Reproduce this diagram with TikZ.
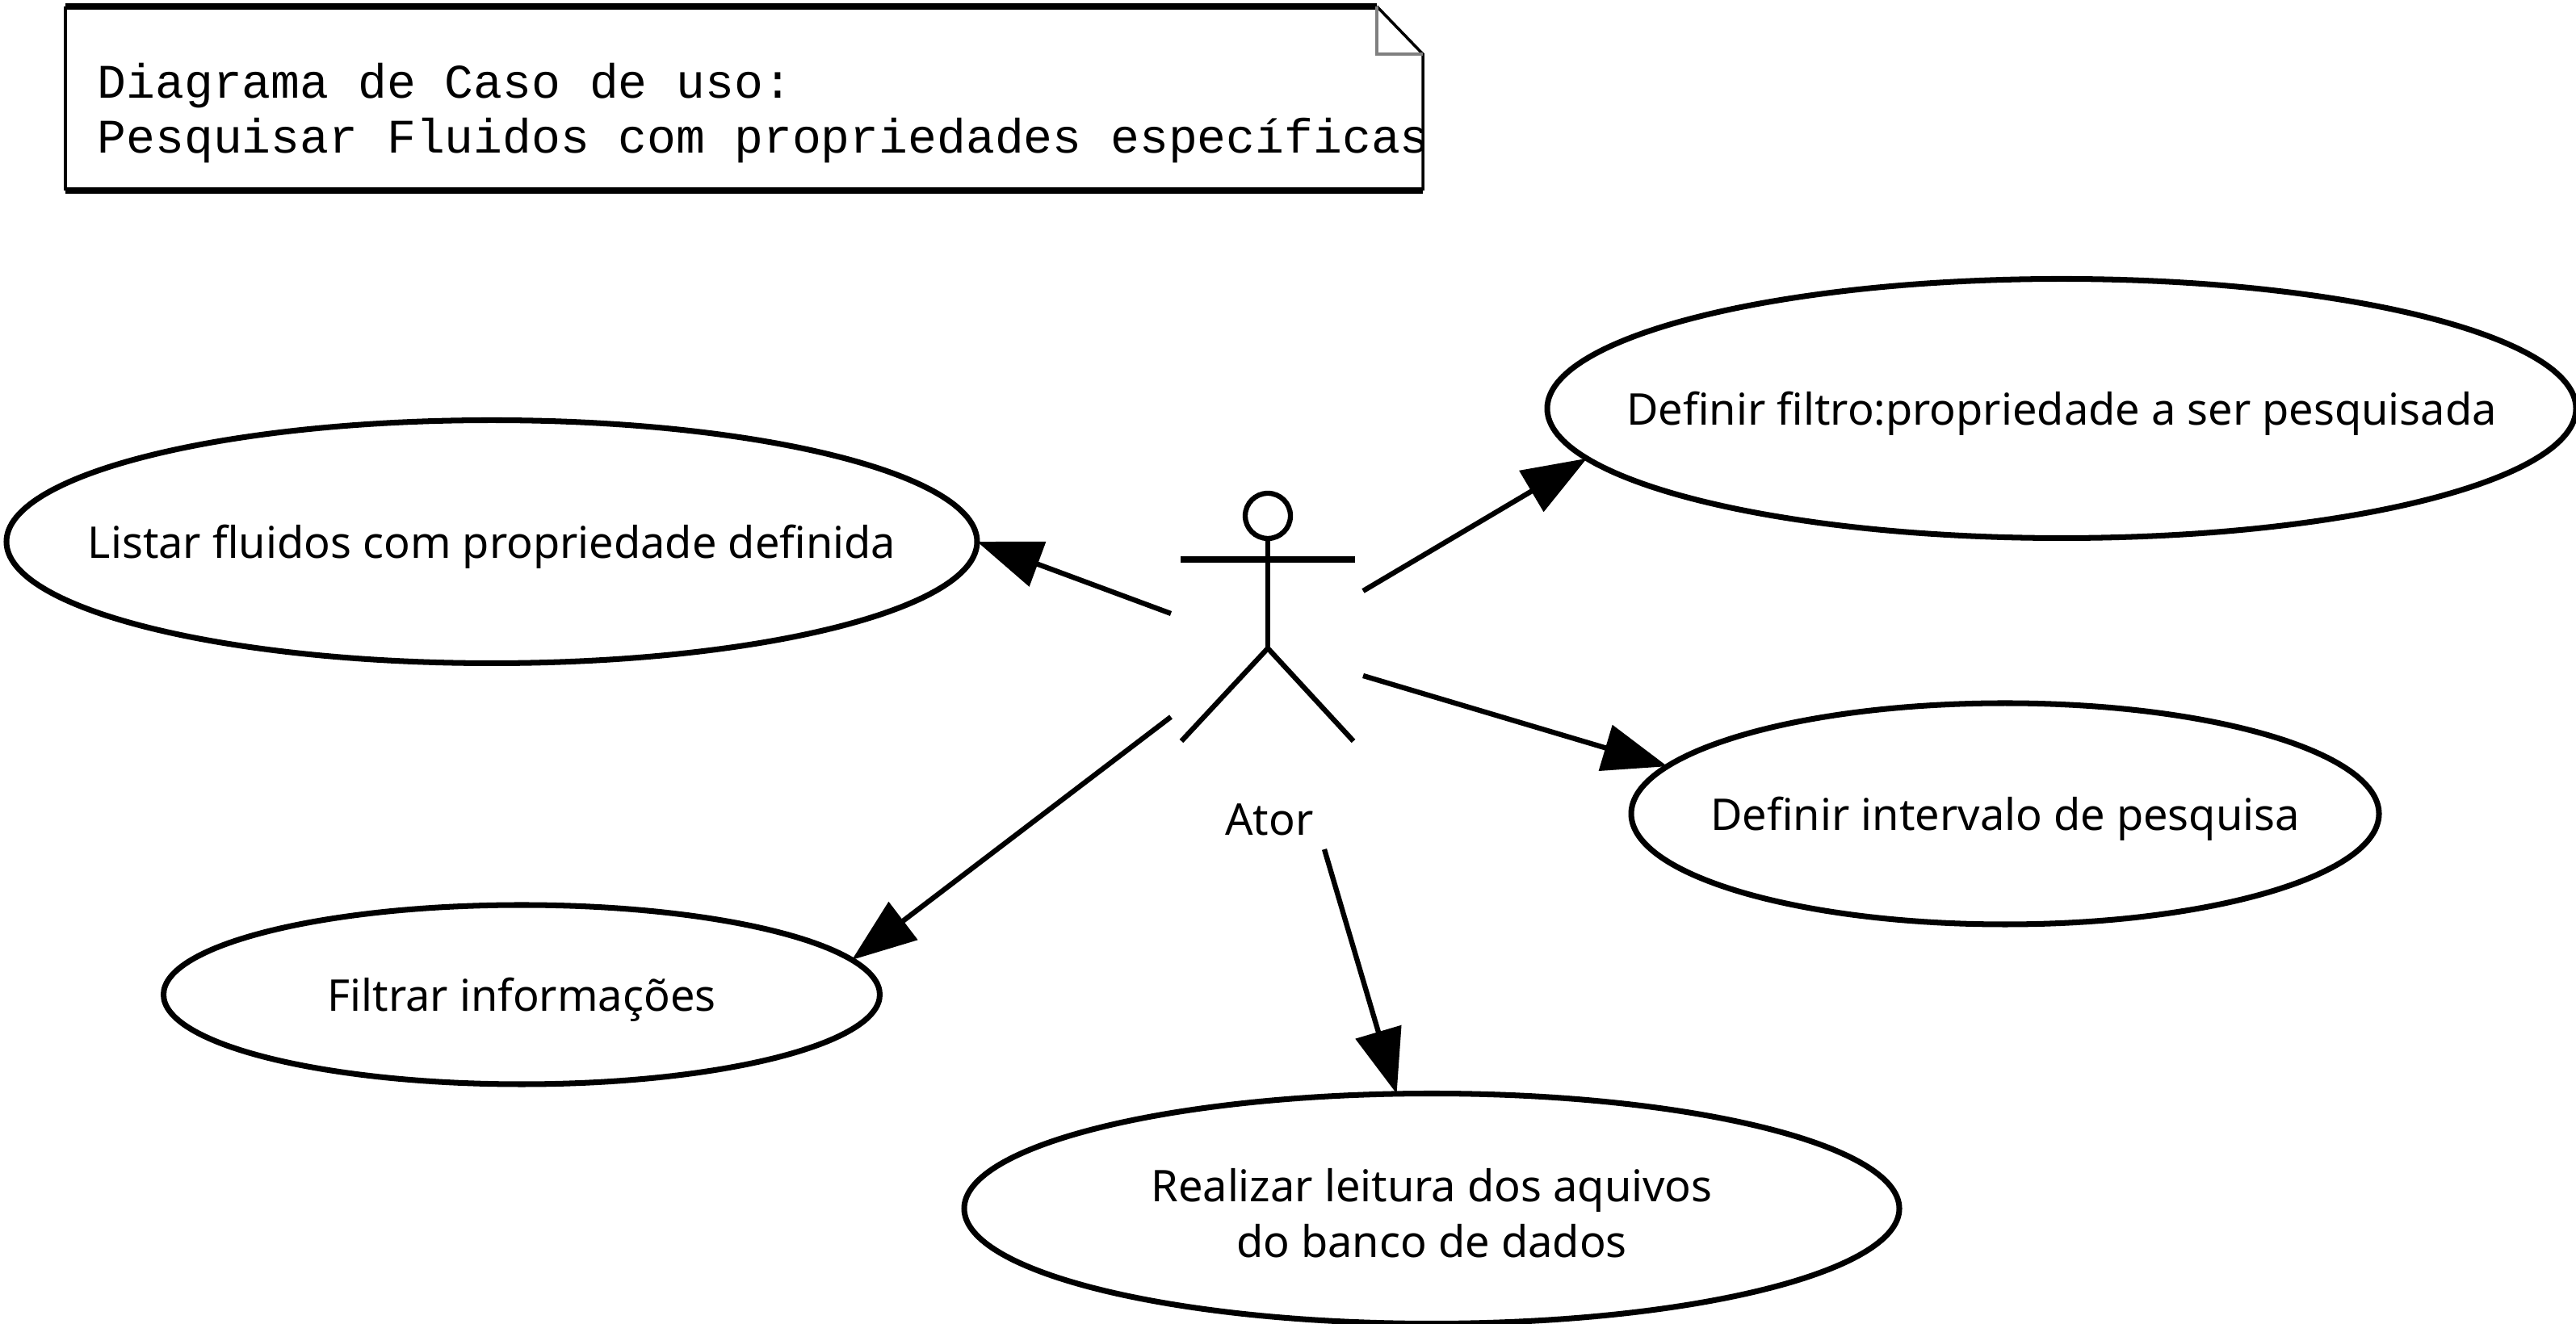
\documentclass[tikz,border=0pt]{standalone}
\usepackage{fontspec}
\setmainfont{Noto Sans}
\setmonofont{Liberation Mono}
\usetikzlibrary{positioning,arrows.meta,shapes.geometric}
\definecolor{foldc}{HTML}{808080}
\tikzset{
  usecase/.style={draw=black,ellipse,line width=2pt,inner sep=0pt,outer sep=0pt},
  usecasetext/.style={inner sep=0pt,align=center,font=\fontsize{15.4}{19.6}\selectfont},
  assoc/.style={-{Triangle[length=0.8cm,width=0.58cm]},line width=1.8pt},
  limb/.style={black,line width=1.8pt},
  notetext/.style={anchor=west,inner sep=0pt,font=\fontsize{17}{20}\ttfamily}
}
\newcommand{\usecasenode}[6]{%
  \node[usecase,minimum width=#3 cm,minimum height=#4 cm] (#5) at (#1,#2) {};
  \node[usecasetext,yshift=-0.06cm] (#5text) at (#5) {#6};
}
\begin{document}
\begin{tikzpicture}
  \useasboundingbox (0,0) rectangle (31.9,16.4);

  % note
  \fill[white] (0.81,14.04) rectangle (17.62,16.32);
  \draw[line width=1pt] (0.81,16.32) -- (0.81,14.04);
  \draw[line width=1pt] (17.62,14.04) -- (17.62,15.73) -- (17.05,16.32);
  \draw[line width=2.4pt] (0.81,16.32) -- (17.05,16.32);
  \draw[line width=2.4pt] (0.81,14.04) -- (17.62,14.04);
  \draw[foldc,line width=1.4pt] (17.05,16.32) -- (17.05,15.73) -- (17.62,15.73);
  \node[notetext] (titulo) at (1.2,15.34) {Diagrama de Caso de uso:};
  \node[notetext] (subtitulo) at (1.2,14.66) {Pesquisar Fluidos com propriedades específicas};

  % use cases
  \usecasenode{25.53}{11.34}{12.74}{3.21}{filtro}{Definir filtro:propriedade a ser pesquisada}
  \usecasenode{6.09}{9.69}{12.02}{3.01}{listar}{Listar fluidos com propriedade definida}
  \usecasenode{24.83}{6.32}{9.26}{2.74}{intervalo}{Definir intervalo de pesquisa}
  \usecasenode{6.46}{4.08}{8.87}{2.22}{filtrar}{Filtrar informações}
  \usecasenode{17.73}{1.43}{11.58}{2.85}{leitura}{Realizar leitura dos aquivos\\do banco de dados}

  % actor
  \node[draw,circle,line width=1.8pt,minimum size=0.56cm,inner sep=0pt,outer sep=0pt] (cabeca) at (15.70,10.01) {};
  \coordinate (quadril) at (15.70,8.37);
  \draw[limb] (cabeca.south) -- (quadril);
  \draw[limb,line width=2.2pt] (14.62,9.47) -- (16.78,9.47);
  \draw[limb] (14.63,7.22) -- (quadril) -- (16.76,7.22);
  \node[inner sep=0pt,font=\fontsize{15.4}{18}\selectfont] (ator) at (15.72,6.25) {Ator};

  % connectors
  \coordinate (a1) at (16.88,9.08);
  \coordinate (a2) at (14.50,8.80);
  \coordinate (a3) at (16.88,8.03);
  \coordinate (a4) at (14.50,7.52);
  \coordinate (a5) at (16.40,5.88);
  \draw[assoc] (a1) -- (filtro.186);
  \draw[assoc] (a2) -- (listar.east);
  \draw[assoc] (a3) -- (intervalo.172);
  \draw[assoc] (a4) -- (filtrar.6);
  \draw[assoc] (a5) -- (leitura.107);
\end{tikzpicture}
\end{document}
